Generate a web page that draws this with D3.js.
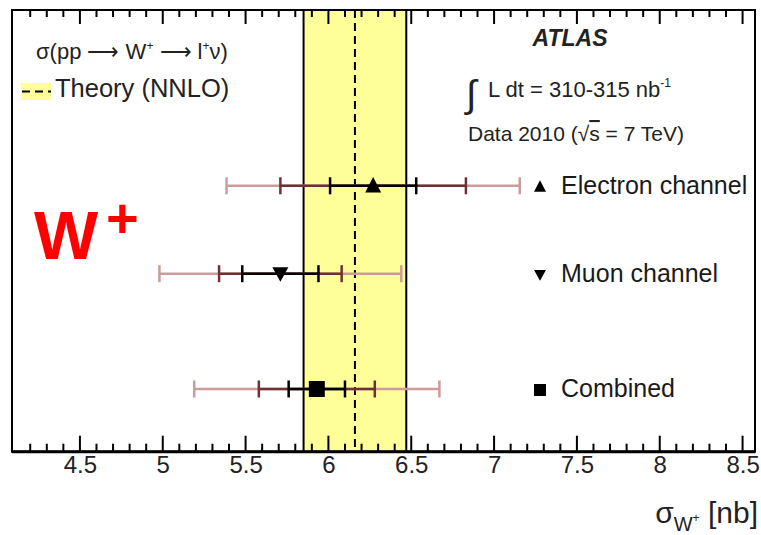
<!DOCTYPE html>
<html>
<head>
<meta charset="utf-8">
<script src="https://cdn.jsdelivr.net/npm/d3@7"></script>
<style>
  html, body { margin: 0; padding: 0; background: #fff; }
  svg { display: block; }
  text { font-family: "Liberation Sans", Arial, Helvetica, sans-serif; }
</style>
</head>
<body>
<svg id="chart" width="761" height="535"></svg>
<script>
// ---- data ----
const channels = ["Electron channel", "Muon channel", "Combined"];
const markerShapes = ["triangle-up", "triangle-down", "square"];
const values = [6.27, 5.71, 5.93];            // sigma(W+) [nb]
const statErr = [0.26, 0.23, 0.17];           // stat
const statSystErr = [0.56, 0.37, 0.35];       // stat (+) syst
const totalErr = [0.885, 0.73, 0.74];         // total (incl. lumi)
const rowLevel = [6.02, 4.03, 1.42];          // vertical graph coordinate of each row
const theoryValue = 6.16;                     // NNLO
const theoryErr = 0.31;
const xTickValues = [4.5, 5, 5.5, 6, 6.5, 7, 7.5, 8, 8.5];
const xDomain = [4.09, 8.575];
const yDomain = [0, 10];

// ---- layout ----
const svg = d3.select("#chart");
const plot = { left: 12, top: 10, right: 755, bottom: 451.7 };

const x = d3.scaleLinear().domain(xDomain).range([plot.left, plot.right]);
const y = d3.scaleLinear().domain(yDomain).range([plot.bottom, plot.top]);

const colInner = "#000000";
const colMid = "#6e3034";
const colOuter = "#cc9c9c";

// theory band
svg.append("rect")
  .attr("x", x(theoryValue - theoryErr))
  .attr("y", plot.top)
  .attr("width", x(theoryValue + theoryErr) - x(theoryValue - theoryErr))
  .attr("height", plot.bottom - plot.top)
  .attr("fill", "#ffff99");
[theoryValue - theoryErr, theoryValue + theoryErr].forEach(v => {
  svg.append("line")
    .attr("x1", x(v)).attr("x2", x(v))
    .attr("y1", plot.top).attr("y2", plot.bottom)
    .attr("stroke", "#000").attr("stroke-width", 2);
});
svg.append("line")
  .attr("x1", x(theoryValue)).attr("x2", x(theoryValue))
  .attr("y1", plot.top).attr("y2", plot.bottom)
  .attr("stroke", "#000").attr("stroke-width", 2)
  .attr("stroke-dasharray", "8,5");

// axes: bottom and top with minor ticks
const minorTicks = d3.range(Math.ceil(xDomain[0] * 10 + 1e-9), Math.floor(xDomain[1] * 10 + 1e-9) + 1)
  .map(d => d / 10)
  .filter(v => x(v) > plot.left + 3 && x(v) < plot.right - 3);

const bottomAxis = d3.axisBottom(x).tickValues(xTickValues).tickFormat(d3.format("")).tickSize(0).tickPadding(0);
const gB = svg.append("g").attr("transform", `translate(0,${plot.bottom})`).call(bottomAxis);
gB.select(".domain").remove();
gB.selectAll("text")
  .attr("dy", null)
  .attr("y", 21)
  .attr("font-size", 24)
  .attr("fill", "#222")
  .style("font-family", "'Liberation Sans', Arial, sans-serif");

const isMajor = v => Math.abs(v * 2 - Math.round(v * 2)) < 1e-6;
const tickG = svg.append("g").attr("stroke", "#000").attr("stroke-width", 2);
minorTicks.forEach(v => {
  const len = isMajor(v) ? 16 : 8;
  tickG.append("line").attr("x1", x(v)).attr("x2", x(v))
    .attr("y1", plot.bottom).attr("y2", plot.bottom - len);
  tickG.append("line").attr("x1", x(v)).attr("x2", x(v))
    .attr("y1", plot.top).attr("y2", plot.top + (isMajor(v) ? 14 : 7));
});

// frame
svg.append("rect")
  .attr("x", plot.left).attr("y", plot.top)
  .attr("width", plot.right - plot.left).attr("height", plot.bottom - plot.top)
  .attr("fill", "none").attr("stroke", "#000").attr("stroke-width", 2);
svg.append("line")
  .attr("x1", plot.left).attr("x2", plot.right)
  .attr("y1", plot.bottom).attr("y2", plot.bottom)
  .attr("stroke", "#000").attr("stroke-width", 3);

// error bars
const capHalf = 8.5;
function errBar(g, c, v, e, color) {
  g.append("line").attr("x1", x(v - e)).attr("x2", x(v + e))
    .attr("y1", c).attr("y2", c).attr("stroke", color).attr("stroke-width", 2.5);
  [v - e, v + e].forEach(p => {
    g.append("line").attr("x1", x(p)).attr("x2", x(p))
      .attr("y1", c - capHalf).attr("y2", c + capHalf)
      .attr("stroke", color).attr("stroke-width", 2.5);
  });
}
function markerPath(shape, s) {
  if (shape === "triangle-up") return `M0,${-s * 0.55}L${s * 0.5},${s * 0.42}L${-s * 0.5},${s * 0.42}Z`;
  if (shape === "triangle-down") return `M0,${s * 0.5}L${s * 0.5},${-s * 0.4}L${-s * 0.5},${-s * 0.4}Z`;
  return `M${-s / 2},${-s / 2}H${s / 2}V${s / 2}H${-s / 2}Z`;
}

const rows = svg.append("g");
channels.forEach((ch, i) => {
  const c = y(rowLevel[i]);
  errBar(rows, c, values[i], totalErr[i], colOuter);
  errBar(rows, c, values[i], statSystErr[i], colMid);
  errBar(rows, c, values[i], statErr[i], colInner);
  rows.append("path")
    .attr("transform", `translate(${x(values[i])},${c})`)
    .attr("d", markerPath(markerShapes[i], 16))
    .attr("fill", "#000");
  // legend entry on the right
  rows.append("path")
    .attr("transform", `translate(540,${c + 1})`)
    .attr("d", markerPath(markerShapes[i], 12))
    .attr("fill", "#000");
  rows.append("text")
    .attr("x", 561).attr("y", c + 8)
    .attr("font-size", 25).attr("fill", "#1a1a1a")
    .text(ch);
});

// top-left header
const t1 = svg.append("text").attr("x", 36).attr("y", 59).attr("font-size", 22).attr("fill", "#222");
t1.append("tspan").text("σ(pp ⟶ W");
t1.append("tspan").attr("font-size", 12).attr("dy", -9).text("+");
t1.append("tspan").attr("dy", 9).text(" ⟶ l");
t1.append("tspan").attr("font-size", 12).attr("dy", -9).text("+");
t1.append("tspan").attr("dy", 9).text("ν)");

svg.append("rect").attr("x", 21).attr("y", 83).attr("width", 30).attr("height", 17).attr("fill", "#ffff99");
svg.append("line").attr("x1", 22).attr("x2", 51).attr("y1", 91.5).attr("y2", 91.5)
  .attr("stroke", "#000").attr("stroke-width", 2).attr("stroke-dasharray", "8,5");
svg.append("text").attr("x", 55).attr("y", 97).attr("font-size", 25.5).attr("fill", "#222").text("Theory (NNLO)");

// top-right header
svg.append("text").attr("x", 570).attr("y", 46).attr("text-anchor", "middle")
  .attr("font-size", 23).attr("font-weight", "bold").attr("font-style", "italic").attr("fill", "#222")
  .text("ATLAS");
svg.append("text").attr("x", 466).attr("y", 107).attr("font-size", 38).attr("fill", "#222").text("∫");
const t2 = svg.append("text").attr("x", 488).attr("y", 97).attr("font-size", 22).attr("fill", "#222");
t2.append("tspan").text("L dt = 310-315 nb");
t2.append("tspan").attr("font-size", 12).attr("dy", -10).text("-1");
const t3 = svg.append("text").attr("x", 468).attr("y", 141).attr("font-size", 21).attr("fill", "#222");
t3.append("tspan").text("Data 2010  (");
t3.append("tspan").text("√");
t3.append("tspan").attr("text-decoration", "overline").text("s");
t3.append("tspan").text(" = 7 TeV)");

// W+ label
svg.append("text").attr("x", 34).attr("y", 259).attr("font-size", 68).attr("font-weight", "bold")
  .attr("fill", "#ff0000").text("W");
svg.append("text").attr("x", 106).attr("y", 237).attr("font-size", 56).attr("font-weight", "bold")
  .attr("fill", "#ff0000").text("+");

// x-axis title
const tt = svg.append("text").attr("x", 758).attr("y", 523).attr("text-anchor", "end")
  .attr("font-size", 30).attr("fill", "#222");
tt.append("tspan").text("σ");
tt.append("tspan").attr("font-size", 20).attr("dy", 8).text("W");
tt.append("tspan").attr("font-size", 12).attr("dy", -9).text("+");
tt.append("tspan").attr("dy", 1).text(" [nb]");
</script>
</body>
</html>
